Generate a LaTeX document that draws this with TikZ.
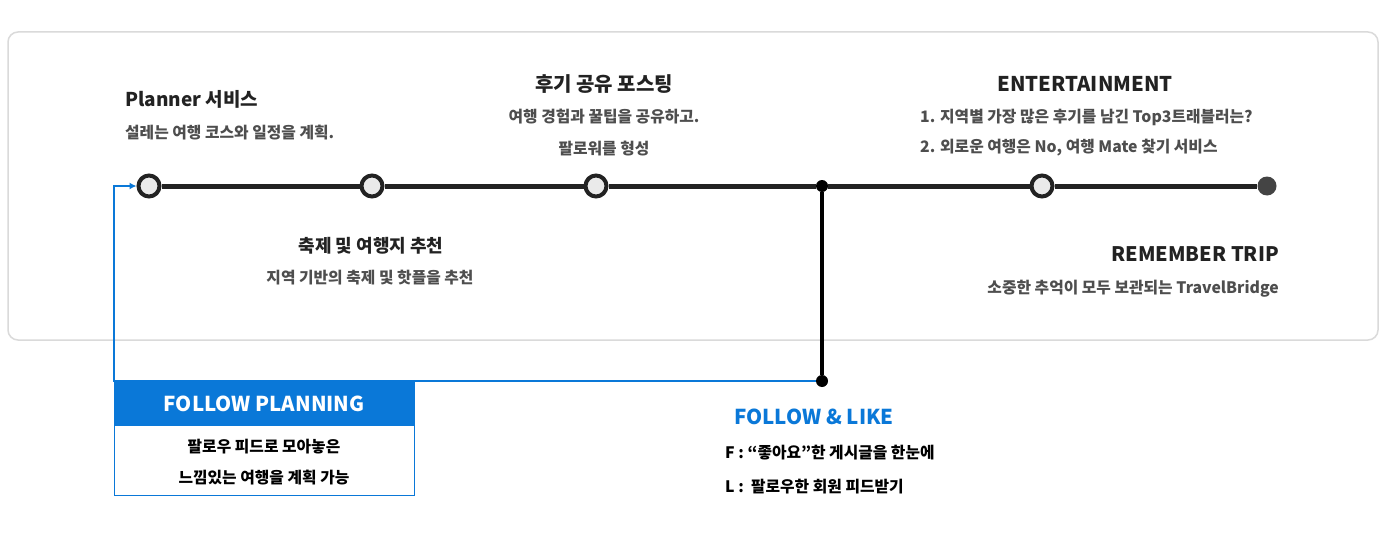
\documentclass[tikz,border=0pt]{standalone}
\usepackage{fontspec}
\setmainfont{Noto Sans CJK KR}
\usetikzlibrary{arrows.meta}
\definecolor{ink}{HTML}{222222}
\definecolor{soft}{HTML}{4E4E4E}
\definecolor{panelline}{HTML}{DADADA}
\definecolor{dotfill}{HTML}{EAEAEA}
\definecolor{enddot}{HTML}{444444}
\definecolor{bluex}{HTML}{0A78D8}
\tikzset{
  ttl/.style={font=\fontsize{19}{21}\selectfont\bfseries, text=ink, inner sep=0pt},
  bodytxt/.style={font=\fontsize{15.8}{18}\selectfont\bfseries, text=soft, inner sep=0pt},
  boxtxt/.style={font=\fontsize{15.8}{18}\selectfont\bfseries, text=black, inner sep=0pt},
  hollow/.style={circle, draw=ink, line width=4pt, fill=dotfill, minimum size=21pt, inner sep=0pt},
  jdot/.style={circle, fill=black, minimum size=12pt, inner sep=0pt},
  edot/.style={circle, fill=enddot, minimum size=19pt, inner sep=0pt},
  tline/.style={draw=ink, line width=5pt},
  vline/.style={draw=black, line width=4pt},
  bline/.style={draw=bluex, line width=1.4pt},
}
\begin{document}
\begin{tikzpicture}[x=1pt,y=-1pt]
\useasboundingbox (0,0) rectangle (1390,535);
\fill[white] (0,0) rectangle (1390,535);
% panel
\draw[panelline, line width=1.5pt, fill=white, rounded corners=10pt] (8,32) rectangle (1378,340);

% timeline nodes
\node[hollow] (c1) at (149,186) {};
\node[hollow] (c2) at (372,186) {};
\node[hollow] (c3) at (596,186) {};
\node[jdot] (j) at (822,186) {};
\node[hollow] (c4) at (1042,186) {};
\node[edot] (e) at (1267,186) {};
\node[jdot] (j2) at (822,381) {};

\draw[tline] (c1) -- (c2);
\draw[tline] (c2) -- (c3);
\draw[tline] (c3) -- (j);
\draw[tline] (j) -- (c4);
\draw[tline] (c4) -- (e);
\draw[vline] (j) -- (j2);

% follow planning box
\node[draw=bluex, line width=1.2pt, minimum width=300pt, minimum height=114pt, anchor=north west, inner sep=0pt] (fp) at (114,381) {};
\node[fill=bluex, minimum width=300pt, minimum height=45pt, anchor=north west, inner sep=0pt,
      font=\fontsize{20.5}{22}\selectfont\bfseries, text=white] (fph) at (114,381) {FOLLOW PLANNING};
\node[boxtxt] (fp1) at (264,447) {팔로우 피드로 모아놓은};
\node[boxtxt] (fp2) at (264,478) {느낌있는 여행을 계획 가능};

% blue connector
\coordinate (bc) at (114,381);
\draw[bline, -{Latex[length=7pt,width=7pt]}] (j2) -- (bc) |- (c1);

% texts
\node[ttl, anchor=west] (t1) at (125,99) {Planner 서비스};
\node[bodytxt, anchor=west] (b1) at (125,133) {설레는 여행 코스와 일정을 계획.};

\node[ttl, font=\fontsize{18}{20}\selectfont\bfseries] (t2) at (371,246) {축제 및 여행지 추천};
\node[bodytxt] (b2) at (370,278) {지역 기반의 축제 및 핫플을 추천};

\node[ttl, font=\fontsize{20}{22}\selectfont\bfseries] (t3) at (604,84) {후기 공유 포스팅};
\node[bodytxt] (b3a) at (604,117) {여행 경험과 꿀팁을 공유하고.};
\node[bodytxt] (b3b) at (604,149) {팔로워를 형성};

\node[ttl, font=\fontsize{20.3}{22}\selectfont\bfseries] (t4) at (1085,84) {ENTERTAINMENT};
\node[bodytxt, anchor=west] (b4a) at (920,117) {1. 지역별 가장 많은 후기를 남긴 Top3트래블러는?};
\node[bodytxt, anchor=west] (b4b) at (920,148) {2. 외로운 여행은 No, 여행 Mate 찾기 서비스};

\node[ttl, font=\fontsize{20}{22}\selectfont\bfseries, anchor=east] (t5) at (1279,254) {REMEMBER TRIP};
\node[bodytxt, anchor=east] (b5) at (1279,289) {소중한 추억이 모두 보관되는 TravelBridge};

\node[ttl, text=bluex, font=\fontsize{20.5}{22}\selectfont\bfseries] (t6) at (814,417) {FOLLOW \& LIKE};
\node[boxtxt, anchor=west] (f1) at (725,453) {F : “좋아요”한 게시글을 한눈에};
\node[boxtxt, anchor=west] (f2) at (725,487) {L :\ \ 팔로우한 회원 피드받기};
\end{tikzpicture}
\end{document}
